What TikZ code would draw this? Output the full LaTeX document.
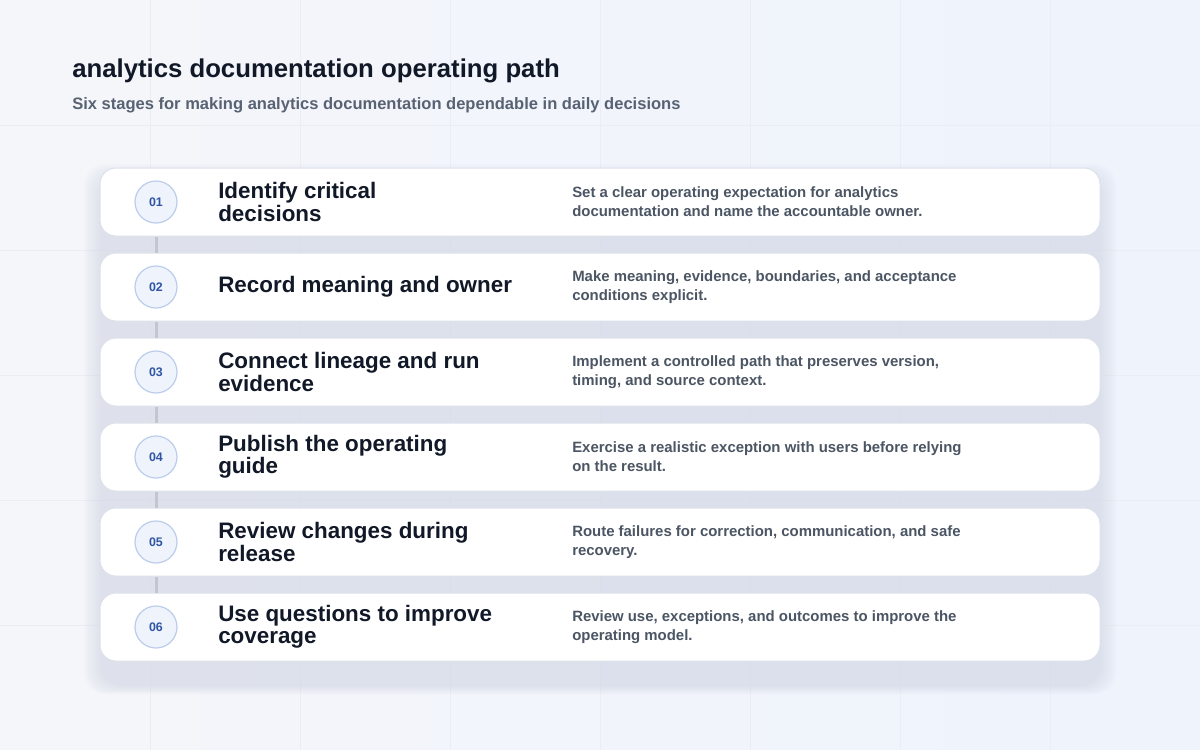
\documentclass[tikz,border=0pt]{standalone}
\usepackage{fontspec}
\setmainfont{Liberation Sans}
\usetikzlibrary{positioning, calc}

\definecolor{bgleft}{HTML}{F5F6FA}
\definecolor{bgright}{HTML}{EEF3FC}
\definecolor{gridline}{HTML}{EAEDF3}
\definecolor{panelgray}{HTML}{CDD3E1}
\definecolor{cardline}{HTML}{DCE1EA}
\definecolor{ink}{HTML}{111827}
\definecolor{muted}{HTML}{4B5563}
\definecolor{subink}{HTML}{586273}
\definecolor{badgefill}{HTML}{EEF3FC}
\definecolor{badgeline}{HTML}{BCCDEB}
\definecolor{badgetext}{HTML}{2F55A4}
\definecolor{linkgray}{HTML}{C2C6CF}

\begin{document}
\begin{tikzpicture}[x=0.75pt, y=-0.75pt,
card/.style={draw=cardline, line width=0.75pt, fill=white, rounded corners=12pt, minimum width=750pt, minimum height=51pt},
badge/.style={circle, draw=badgeline, line width=0.9pt, fill=badgefill, minimum size=31.5pt, inner sep=0pt, text=badgetext, font=\bfseries\fontsize{9.3}{9.3}\selectfont},
stagetitle/.style={anchor=west, align=left, text=ink, inner sep=0pt, font=\bfseries\fontsize{16.8}{16.8}\selectfont},
stagetext/.style={anchor=west, align=left, text=muted, inner sep=0pt, font=\bfseries\fontsize{11.2}{14.4}\selectfont},
link/.style={draw=linkgray, line width=2.25pt},
gridrule/.style={draw=gridline, line width=0.75pt}]
\useasboundingbox (0,0) rectangle (1200,750);
% page
\shade[left color=bgleft, right color=bgright] (0,0) rectangle (1200,750);
\foreach \x in {150,300,...,1050} \draw[gridrule] (\x,0) -- (\x,750);
\foreach \y in {125,250,...,625} \draw[gridrule] (0,\y) -- (1200,\y);
% soft panel behind the stages
\foreach \k in {0,...,8}
  \fill[panelgray, opacity=0.07, rounded corners=16pt] (100-2*\k,180-2*\k) rectangle (1100+2*\k,686+1*\k);

\node[anchor=base west, inner sep=0pt, text=ink, font=\bfseries\fontsize{19.3}{19.3}\selectfont] (heading) at (72,77) {analytics documentation operating path};
\node[anchor=base west, inner sep=0pt, text=subink, font=\bfseries\fontsize{12.4}{12.4}\selectfont] (subheading) at (72,109) {Six stages for making analytics documentation dependable in daily decisions};

% stages
\foreach \i/\n/\ttl/\dsc in {
  1/01/{Identify critical\\decisions}/{Set a clear operating expectation for analytics\\documentation and name the accountable owner.},
  2/02/{Record meaning and owner}/{Make meaning, evidence, boundaries, and acceptance\\conditions explicit.},
  3/03/{Connect lineage and run\\evidence}/{Implement a controlled path that preserves version,\\timing, and source context.},
  4/04/{Publish the operating\\guide}/{Exercise a realistic exception with users before relying\\on the result.},
  5/05/{Review changes during\\release}/{Route failures for correction, communication, and safe\\recovery.},
  6/06/{Use questions to improve\\coverage}/{Review use, exceptions, and outcomes to improve the\\operating model.}}{
  \node[card] (card\i) at (600,{202+85*(\i-1)}) {};
  \node[badge] (num\i) at (156,{202+85*(\i-1)}) {\n};
  \node[stagetitle] (title\i) at (218,{202+85*(\i-1)}) {\ttl};
  \node[stagetext] (text\i) at (572,{202+85*(\i-1)}) {\dsc};
}
\foreach \i [evaluate=\i as \j using int(\i+1)] in {1,...,5}
  \draw[link] (card\i.south -| num\i) -- (card\j.north -| num\j);
\end{tikzpicture}
\end{document}
